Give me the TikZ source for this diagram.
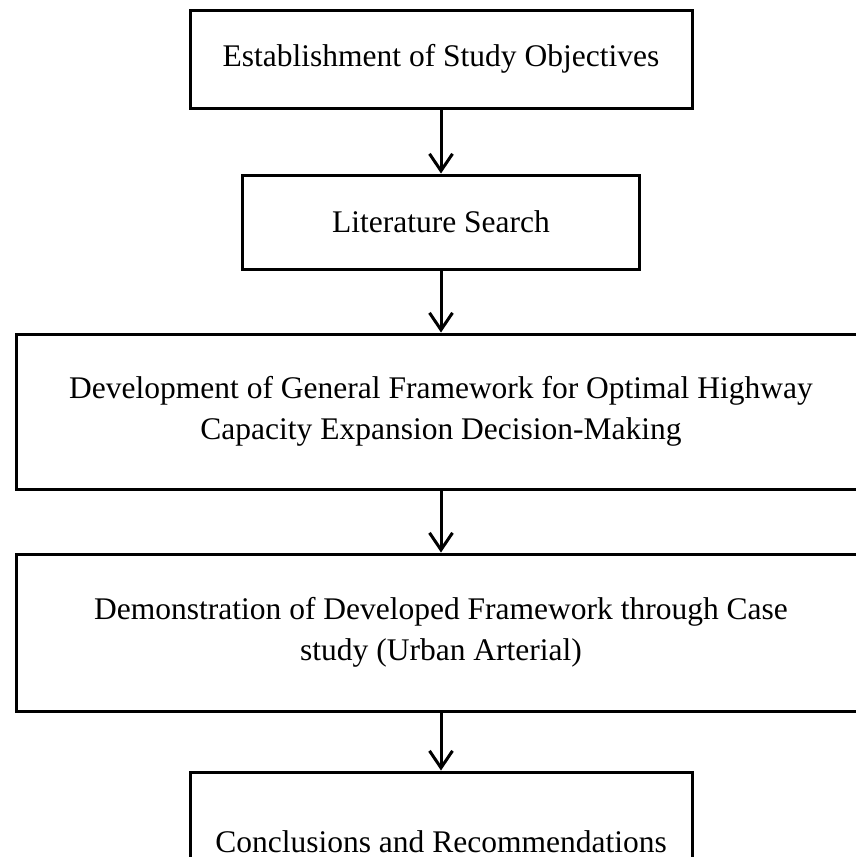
\documentclass[tikz,border=0pt]{standalone}
\usepackage{fontspec}
\setmainfont{Liberation Serif}
\usetikzlibrary{arrows.meta,positioning}

\begin{document}
\begin{tikzpicture}[
  x=0.5pt, y=-0.5pt,
  stage/.style={rectangle, draw=black, line width=1.5pt, fill=white,
                minimum width=#1, align=center, inner sep=0pt,
                font=\fontsize{15.75}{20.5}\selectfont},
  flow/.style={-{Straight Barb[length=8.5pt,width=11.5pt]}, line width=1.5pt}
]
  \clip (0,0) rectangle (856,857);
  \node[stage=251pt, minimum height=49pt] (obj) at (441,59) {Establishment of Study Objectives};
  \node[stage=198.5pt, minimum height=47pt, below=32pt of obj] (lit) {Literature Search};
  \node[stage=425pt, minimum height=77.5pt, below=31pt of lit] (frame) {Development of General Framework for Optimal Highway\\Capacity Expansion Decision-Making};
  \node[stage=425pt, minimum height=78.5pt, below=31pt of frame] (demo) {Demonstration of Developed Framework through Case\\study (Urban Arterial)};
  \node[stage=251pt, minimum height=70pt, below=29pt of demo] (concl) {Conclusions and Recommendations};
  \draw[flow] (obj) -- (lit);
  \draw[flow] (lit) -- (frame);
  \draw[flow] (frame) -- (demo);
  \draw[flow] (demo) -- (concl);
\end{tikzpicture}
\end{document}
